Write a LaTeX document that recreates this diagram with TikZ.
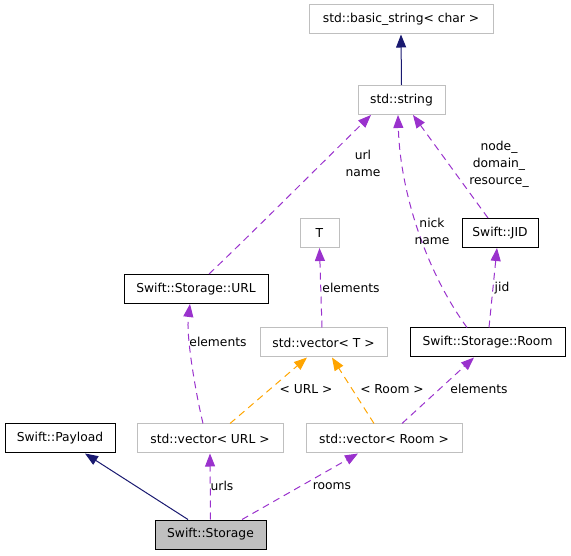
\documentclass[tikz,border=0pt]{standalone}
\usepackage{fontspec}
\setmainfont{DejaVu Sans}
\usepackage{tikz}
\usetikzlibrary{arrows.meta}
\definecolor{edgepurple}{HTML}{9A32CD}
\definecolor{edgenavy}{HTML}{191970}
\definecolor{edgeorange}{HTML}{FFA500}
\definecolor{boxgray}{HTML}{BFBFBF}
\begin{document}
\begin{tikzpicture}[x=1pt,y=1pt,
  font=\fontsize{12.3}{17}\selectfont,
  extbox/.style={draw=boxgray,line width=1pt,minimum height=29pt,inner sep=0pt},
  swiftbox/.style={draw=black,line width=1pt,minimum height=29pt,inner sep=0pt},
  curbox/.style={swiftbox,fill=boxgray},
  usage/.style={draw=edgepurple,line width=1pt,dash pattern=on 7pt off 5pt,-{Triangle[length=13pt,width=10pt,fill=edgepurple]}},
  inherit/.style={draw=edgenavy,line width=1pt,-{Triangle[length=13pt,width=10pt,fill=edgenavy]}},
  templ/.style={draw=edgeorange,line width=1pt,dash pattern=on 7pt off 5pt,-{Triangle[length=13pt,width=10pt,fill=edgeorange]}},
  elabel/.style={align=center,inner sep=0pt}]
\useasboundingbox (0,0) rectangle (571,555);
% classes
\node[extbox,minimum width=184pt] (basicstring) at (401,535.5) {std::basic\_string< char >};
\node[extbox,minimum width=87pt] (stdstring) at (401.5,455) {std::string};
\node[extbox,minimum width=39pt] (tparam) at (319.5,322) {T};
\node[swiftbox,minimum width=76pt] (jid) at (500,322) {Swift::JID};
\node[swiftbox,minimum width=144pt] (url) at (196,266) {Swift::Storage::URL};
\node[extbox,minimum width=127pt] (vect) at (323.5,212.5) {std::vector< T >};
\node[swiftbox,minimum width=155pt] (room) at (487.5,212.5) {Swift::Storage::Room};
\node[swiftbox,minimum width=110pt] (payload) at (60,116.5) {Swift::Payload};
\node[extbox,minimum width=146pt] (vecurl) at (210,116.5) {std::vector< URL >};
\node[extbox,minimum width=156pt] (vecroom) at (384,116.5) {std::vector< Room >};
\node[curbox,minimum width=111pt] (storage) at (210.5,20.5) {Swift::Storage};
% edges
\draw[inherit] (stdstring.north) -- (basicstring.south);
\draw[inherit] ([xshift=-22.5pt]storage.north) -- ([xshift=25pt]payload.south);
\draw[usage] (storage.north) -- (vecurl.south);
\draw[usage] ([xshift=31.5pt]storage.north) -- ([xshift=-26pt]vecroom.south);
\draw[usage] ([xshift=-7pt]vecurl.north) .. controls (195,165) and (186,220) .. ([xshift=-6pt]url.south);
\draw[templ] ([xshift=20pt]vecurl.north) -- ([xshift=-16.5pt]vect.south);
\draw[templ] ([xshift=-10pt]vecroom.north) -- ([xshift=8.5pt]vect.south);
\draw[usage] ([xshift=18pt]vecroom.north) -- ([xshift=-13.5pt]room.south);
\draw[usage] ([xshift=-1.5pt]vect.north) -- (tparam.south);
\draw[usage] ([xshift=1.5pt]room.north) -- ([xshift=-3pt]jid.south);
\draw[usage] ([xshift=-20.5pt]room.north) .. controls (425,285) and (400,365) .. ([xshift=-3.5pt]stdstring.south);
\draw[usage] ([xshift=-12pt]jid.north) -- ([xshift=11.5pt]stdstring.south);
\draw[usage] ([xshift=13pt]url.north) .. controls (245,315) and (320,390) .. ([xshift=-30.5pt]stdstring.south);
% labels
\node[elabel] (lblurlname) at (363,392) {url\\name};
\node[elabel] (lbljidparts) at (499,391) {node\_\\domain\_\\resource\_};
\node[elabel] (lblnickname) at (432,323.5) {nick\\name};
\node[elabel] (lblelemt) at (351,267) {elements};
\node[elabel] (lbljid) at (502,267) {jid};
\node[elabel] (lblelemurl) at (218,213) {elements};
\node[elabel] (lbltplurl) at (306,166) {< URL >};
\node[elabel] (lbltplroom) at (392,166) {< Room >};
\node[elabel] (lblelemroom) at (479,166) {elements};
\node[elabel] (lblurls) at (222,69) {urls};
\node[elabel] (lblrooms) at (332,69) {rooms};
\end{tikzpicture}
\end{document}
